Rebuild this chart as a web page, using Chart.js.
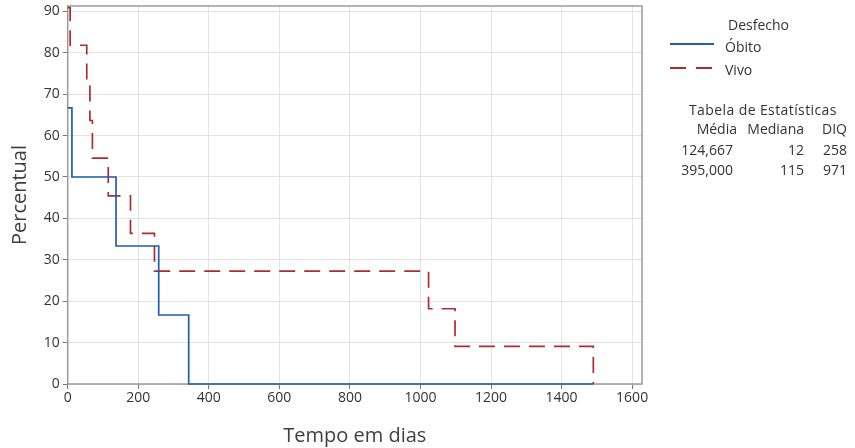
<!DOCTYPE html>
<html lang="pt">
<head>
    <meta charset="UTF-8">
    <title>Tempo em dias - Percentual</title>
    <script src="https://cdn.jsdelivr.net/npm/chart.js"></script>
    <style>
        body { margin: 0; background: #fff; font-family: 'Open Sans', sans-serif; color: #333; }
        #wrap { position: relative; width: 855px; height: 448px; }
        .lbl { position: absolute; font-size: 14px; line-height: 20px; white-space: nowrap; color: #333; }
        .r { text-align: right; }
    </style>
</head>
<body>
<div id="wrap">
    <canvas id="kmChart" width="855" height="448"></canvas>

    <div class="lbl" style="left:728px; top:15px;">Desfecho</div>
    <svg style="position:absolute; left:670px; top:40px;" width="46" height="8">
        <line x1="0" y1="4" x2="44" y2="4" stroke="#1f5fae" stroke-width="1.8"/>
    </svg>
    <div class="lbl" style="left:725px; top:37px;">Óbito</div>
    <svg style="position:absolute; left:670px; top:64px;" width="46" height="8">
        <line x1="0" y1="4" x2="44" y2="4" stroke="#ae2b2e" stroke-width="1.8" stroke-dasharray="16 10"/>
    </svg>
    <div class="lbl" style="left:725px; top:60px;">Vivo</div>

    <div class="lbl" style="left:689px; top:100px; letter-spacing:0.4px;">Tabela de Estatísticas</div>
    <div class="lbl r" style="right:118px; top:119px;">Média</div>
    <div class="lbl r" style="right:51px; top:119px;">Mediana</div>
    <div class="lbl r" style="right:8px; top:119px;">DIQ</div>
    <div id="statRows"></div>
</div>

<script>
    // Curvas de sobrevida (Kaplan-Meier)
    var obitoTempo = [0, 12, 137, 258, 343, 1490];
    var obitoPct   = [66.67, 50, 33.33, 16.67, 0, 0];
    var vivoTempo  = [0, 7, 54, 63, 70, 115, 178, 246, 1023, 1098, 1490];
    var vivoPct    = [90.91, 81.82, 72.73, 63.64, 54.55, 45.45, 36.36, 27.27, 18.18, 9.09, 0];

    var xTicks = [0, 200, 400, 600, 800, 1000, 1200, 1400, 1600];
    var yTicks = [0, 10, 20, 30, 40, 50, 60, 70, 80, 90];

    // Tabela de Estatisticas
    var media   = ['124,667', '395,000'];
    var mediana = ['12', '115'];
    var diq     = ['258', '971'];

    var rows = document.getElementById('statRows');
    for (var i = 0; i < media.length; i++) {
        var rowTop = 140 + i * 20;
        rows.innerHTML +=
            '<div class="lbl r" style="right:122px; top:' + rowTop + 'px;">' + media[i] + '</div>' +
            '<div class="lbl r" style="right:51px; top:' + rowTop + 'px;">' + mediana[i] + '</div>' +
            '<div class="lbl r" style="right:8px; top:' + rowTop + 'px;">' + diq[i] + '</div>';
    }

    Chart.defaults.font.family = "'Open Sans', sans-serif";

    function toPoints(xs, ys) {
        return xs.map(function (x, i) { return { x: x, y: ys[i] }; });
    }

    var plotBorder = {
        id: 'plotBorder',
        beforeDatasetsDraw: function (chart) {
            var a = chart.chartArea, c = chart.ctx;
            c.save();
            c.strokeStyle = '#9a9a9a';
            c.lineWidth = 1.5;
            c.strokeRect(a.left, a.top, a.right - a.left, a.bottom - a.top);
            c.restore();
        }
    };

    var tickFont = { size: 14 };
    var titleFont = { size: 20 };

    var ctx = document.getElementById('kmChart').getContext('2d');
    var chart = new Chart(ctx, {
        type: 'line',
        data: {
            datasets: [{
                label: 'Óbito',
                data: toPoints(obitoTempo, obitoPct),
                borderColor: '#1f5fae',
                borderWidth: 1.7,
                stepped: 'before',
                pointRadius: 0,
                fill: false,
                clip: 3
            }, {
                label: 'Vivo',
                data: toPoints(vivoTempo, vivoPct),
                borderColor: '#ae2b2e',
                borderWidth: 1.7,
                borderDash: [16, 9],
                stepped: 'before',
                pointRadius: 0,
                fill: false,
                clip: 3
            }]
        },
        options: {
            responsive: false,
            animation: false,
            layout: { padding: { left: 0, right: 213, top: 6, bottom: 0 } },
            plugins: { legend: { display: false }, tooltip: { enabled: false } },
            scales: {
                x: {
                    type: 'linear',
                    min: 0,
                    max: 1628,
                    afterBuildTicks: function (s) { s.ticks = xTicks.map(function (v) { return { value: v }; }); },
                    afterFit: function (s) { s.height = 64; s.paddingLeft = 0; s.paddingRight = 0; },
                    grid: { color: '#e3e3e3', tickColor: '#777', tickLength: 5 },
                    border: { display: false },
                    ticks: { font: tickFont, color: '#333', padding: 1, maxRotation: 0,
                             callback: function (v) { return String(v); } },
                    title: { display: true, text: 'Tempo em dias', font: titleFont, color: '#404040', padding: { top: 0, bottom: 0 } }
                },
                y: {
                    min: 0,
                    max: 91.3,
                    afterBuildTicks: function (s) { s.ticks = yTicks.map(function (v) { return { value: v }; }); },
                    afterFit: function (s) { s.width = 67.7; s.paddingTop = 0; s.paddingBottom = 0; },
                    grid: { color: '#e3e3e3', tickColor: '#777', tickLength: 5 },
                    border: { display: false },
                    ticks: { font: tickFont, color: '#333', padding: 3,
                             callback: function (v) { return String(v); } },
                    title: { display: true, text: 'Percentual', font: titleFont, color: '#404040', padding: { top: 8, bottom: 0 } }
                }
            }
        },
        plugins: [plotBorder]
    });
</script>
</body>
</html>
